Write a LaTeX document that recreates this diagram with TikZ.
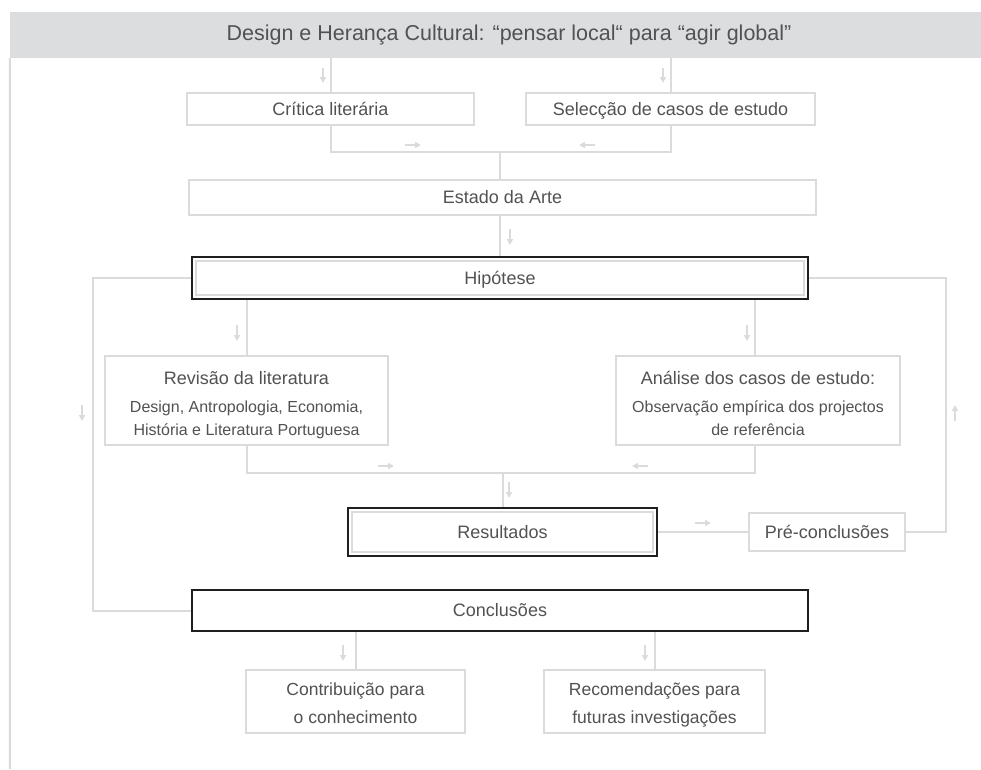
\documentclass[tikz,border=0pt]{standalone}
\usepackage{fontspec}
\setmainfont{Liberation Sans}
\usetikzlibrary{arrows.meta,calc}
\begin{document}
\begin{tikzpicture}[x=1pt,y=-1pt,
  box/.style={draw=color1,line width=2.2pt,fill=white,inner sep=0pt,align=center,text=color4,font=\fontsize{18}{23}\selectfont,text height=12.9pt,text depth=0pt},
  dark/.style={draw=color3,line width=2.8pt},
  link/.style={draw=color1,line width=2pt},
  tick/.style={draw=color1,line width=2pt,-{Triangle[length=6pt,width=6pt]}}]
\definecolor{color1}{rgb}{0.86,0.86,0.87}
\definecolor{color2}{rgb}{0.86,0.865,0.875}
\definecolor{color3}{rgb}{0.12,0.12,0.12}
\definecolor{color4}{rgb}{0.32,0.32,0.32}
\useasboundingbox (0,0) rectangle (981,769);
\coordinate[] (B1) at (10,769);
\coordinate[] (J1) at (500,152);
\coordinate[] (J2) at (502.5,473);
\coordinate[] (L1) at (93,278);
\coordinate[] (R1) at (946,278);
\coordinate[] (A1) at (754.5,0);
% small direction marks
\coordinate[] (T1) at (323,68);   \coordinate[] (T2) at (323,83);
\coordinate[] (T3) at (663,68);   \coordinate[] (T4) at (663,83);
\coordinate[] (T5) at (405,145);  \coordinate[] (T6) at (421,145);
\coordinate[] (T7) at (595,145);  \coordinate[] (T8) at (579,145);
\coordinate[] (T9) at (510,229);  \coordinate[] (T10) at (510,245);
\coordinate[] (T11) at (237,325); \coordinate[] (T12) at (237,341);
\coordinate[] (T13) at (747,325); \coordinate[] (T14) at (747,341);
\coordinate[] (T15) at (82,405);  \coordinate[] (T16) at (82,421);
\coordinate[] (T17) at (955,421); \coordinate[] (T18) at (955,405);
\coordinate[] (T19) at (378,466); \coordinate[] (T20) at (394,466);
\coordinate[] (T21) at (648,466); \coordinate[] (T22) at (632,466);
\coordinate[] (T23) at (509,482); \coordinate[] (T24) at (509,498);
\coordinate[] (T25) at (695,523); \coordinate[] (T26) at (711,523);
\coordinate[] (T27) at (343,645); \coordinate[] (T28) at (343,661);
\coordinate[] (T29) at (645,645); \coordinate[] (T30) at (645,661);
% header
\node[fill=color2,minimum width=971,minimum height=46,inner sep=0pt] (band) at (495.5,35) {};
\node[text=color4,font=\fontsize{21.5}{24}\selectfont] (title) at (509,35) {Design e Herança Cultural: “pensar local“ para “agir global”};
% boxes
\node[box,minimum width=287,minimum height=32] (crit) at (330.5,109) {Crítica literária};
\node[box,minimum width=289,minimum height=32] (sel) at (670.5,109) {Selecção de casos de estudo};
\node[box,minimum width=627,minimum height=35] (est) at (502.5,197.5) {Estado da Arte};
\node[box,dark,minimum width=616,minimum height=42] (hip) at (500,278) {Hipótese};
\node[box,minimum width=283,minimum height=89,text height=69pt] (rev) at (246.5,400.5) {{\fontsize{18}{23}\selectfont Revisão da literatura}\\[5pt]{\fontsize{16}{23}\selectfont Design, Antropologia, Economia,}\\{\fontsize{16}{23}\selectfont História e Literatura Portuguesa}};
\node[box,minimum width=284,minimum height=89,text height=69pt] (ana) at (758,400.5) {{\fontsize{18}{23}\selectfont Análise dos casos de estudo:}\\[5pt]{\fontsize{16}{23}\selectfont Observação empírica dos projectos}\\{\fontsize{16}{23}\selectfont de referência}};
\node[box,dark,minimum width=309,minimum height=48] (res) at (502.5,532) {Resultados};
\node[box,minimum width=156,minimum height=38] (pre) at (827,532) {Pré-conclusões};
\node[box,dark,minimum width=616,minimum height=41] (conc) at (500,610.5) {Conclusões};
\node[box,minimum width=219,minimum height=63,font=\fontsize{17.5}{28}\selectfont,text height=44pt] (contr) at (355.5,701.5) {Contribuição para\\o conhecimento};
\node[box,minimum width=221,minimum height=63,font=\fontsize{17.5}{28}\selectfont,text height=44pt] (rec) at (654.5,701.5) {Recomendações para\\futuras investigações};
\draw[link] ($(hip.north west)+(5.5,5.5)$) rectangle ($(hip.south east)+(-5.5,-5.5)$);
\draw[link] ($(res.north west)+(5,5)$) rectangle ($(res.south east)+(-5,-5)$);
% connectors
\draw[link] (band.south west) -- (B1);
\draw[link] (band.south -| crit.north) -- (crit.north);
\draw[link] (band.south -| sel.north) -- (sel.north);
\draw[link] (crit.south) |- (J1) -| (sel.south);
\draw[link] (J1) -- (J1 |- est.north);
\draw[link] (hip.north |- est.south) -- (hip.north);
\draw[link] (hip.west) -- (L1) |- (conc.west);
\draw[link] (hip.east) -- (R1) |- (pre.east);
\draw[link] (hip.south -| rev.north) -- (rev.north);
\draw[link] (hip.south -| A1) -- (ana.north -| A1);
\draw[link] (rev.south) |- (J2) -| (ana.south -| A1);
\draw[link] (J2) -- (res.north);
\draw[link] (res.east) -- (pre.west);
\draw[link] (conc.south -| contr.north) -- (contr.north);
\draw[link] (conc.south -| rec.north) -- (rec.north);
\foreach \a/\b in {T1/T2,T3/T4,T5/T6,T7/T8,T9/T10,T11/T12,T13/T14,T15/T16,T17/T18,T19/T20,T21/T22,T23/T24,T25/T26,T27/T28,T29/T30}
  \draw[tick] (\a) -- (\b);
\end{tikzpicture}
\end{document}
